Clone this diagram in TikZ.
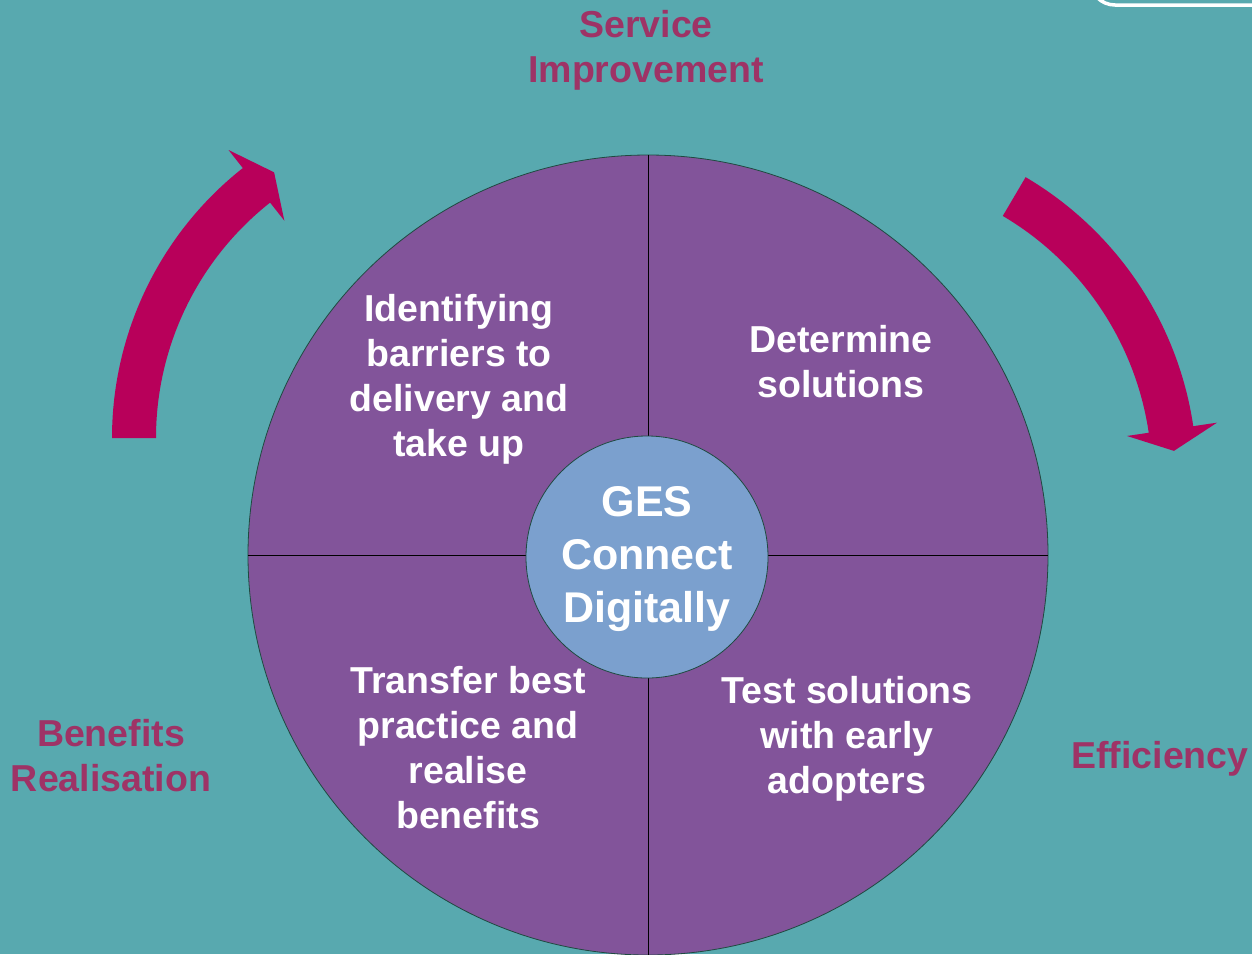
\documentclass[tikz,border=0pt]{standalone}
\usepackage{fontspec}
\setmainfont{Liberation Sans}
\usetikzlibrary{calc}
\definecolor{bg}{HTML}{58A9AF}
\definecolor{quad}{HTML}{82549A}
\definecolor{hubcol}{HTML}{7BA0CE}
\definecolor{arr}{HTML}{B8005A}
\definecolor{lab}{HTML}{9E3366}
\definecolor{edge}{HTML}{1F4A40}
\begin{document}
\begin{tikzpicture}[x=1pt,y=-1pt,
  qtext/.style={text=white, font=\bfseries\fontsize{37.5}{45}\selectfont, align=center, inner sep=0},
  ltext/.style={text=lab, font=\bfseries\fontsize{37.5}{45}\selectfont, align=center, inner sep=0},
  htext/.style={text=white, font=\bfseries\fontsize{43}{53}\selectfont, align=center, inner sep=0},
  bigarrow/.style={fill=arr}]
\fill[bg] (0,0) rectangle (1252,954);
\useasboundingbox (0,0) rectangle (1252,954);
% top-right frame corner
\draw[white, line width=3.5pt, rounded corners=25pt] (1090,-60) -- (1090,5) -- (1300,5);
% wheel
\node[circle, fill=quad, draw=edge, line width=0.8pt, minimum size=800, inner sep=0] (wheel) at (648,555) {};
\draw[black, line width=0.9pt] (wheel.north) -- (wheel.south);
\draw[black, line width=0.9pt] (wheel.west) -- (wheel.east);
\node[circle, fill=hubcol, draw=edge, line width=0.8pt, minimum size=242, inner sep=0] (hub) at (647,557) {};
\node[htext] (hubtext) at (647,559) {GES\\Connect\\Digitally};
% quadrant texts
\node[qtext] (q1) at (459,379) {Identifying\\barriers to\\delivery and\\take up};
\node[qtext] (q2) at (841,362) {Determine\\solutions};
\node[qtext] (q3) at (468,748) {Transfer best\\practice and\\realise\\benefits};
\node[qtext] (q4) at (847,739) {Test solutions\\with early\\adopters};
% outer labels
\node[ltext] (l1) at (646,50) {Service\\Improvement};
\node[ltext] (l2) at (111,756) {Benefits\\Realisation};
\node[ltext] (l3) at (1160,759) {Efficiency};
% curved arrows
\coordinate (lc) at (456,438);
\fill[bigarrow] ($(lc)+(-180:344)$) arc[start angle=-180, end angle=-128.3, radius=344]
  -- ($(lc)+(-128.3:367)$) -- ($(lc)+(-124.4:322)$) -- ($(lc)+(-128.3:277)$)
  -- ($(lc)+(-128.3:300)$) arc[start angle=-128.3, end angle=-180, radius=300] -- cycle;
\coordinate (rc) at (849,477);
\fill[bigarrow] ($(rc)+(-59.5:348)$) arc[start angle=-59.5, end angle=-8.4, radius=348]
  -- ($(rc)+(-8.4:372)$) -- ($(rc)+(-4.6:326)$) -- ($(rc)+(-8.4:281)$)
  -- ($(rc)+(-8.4:303)$) arc[start angle=-8.4, end angle=-59.5, radius=303] -- cycle;
\end{tikzpicture}
\end{document}
